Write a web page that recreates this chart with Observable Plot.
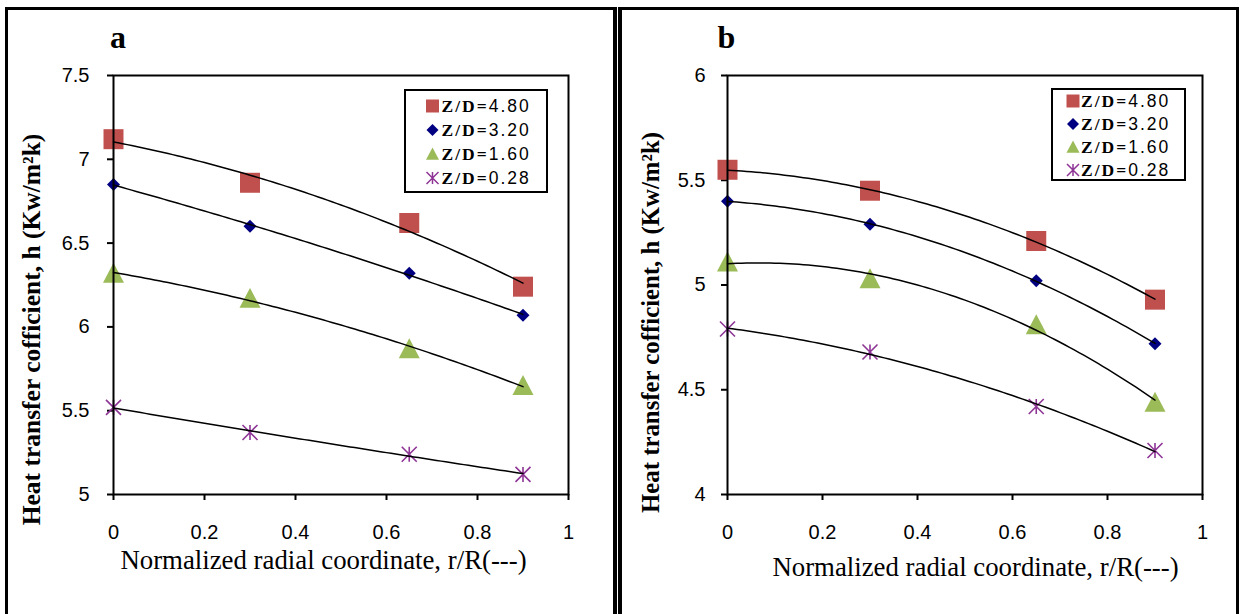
<!DOCTYPE html>
<html>
<head>
<meta charset="utf-8">
<script src="https://cdn.jsdelivr.net/npm/d3@7"></script>
<script src="https://cdn.jsdelivr.net/npm/@observablehq/plot@0.6"></script>
<style>
  body { margin: 0; background: #fff; }
  #page { position: relative; width: 1242px; height: 614px; overflow: hidden; background: #fff; }
  .panel { position: absolute; top: 0; }
  .frame { position: absolute; border-style: solid; border-color: #000; border-bottom: none; box-sizing: border-box; }
  .legend { position: absolute; }
</style>
</head>
<body>
<div id="page"></div>
<script>
// ---------- data ----------
const rR = [0, 0.3, 0.65, 0.9];
const seriesNames = ["Z/D=4.80", "Z/D=3.20", "Z/D=1.60", "Z/D=0.28"];

// panel a
const hA_480 = [7.12, 6.86, 6.62, 6.24];
const hA_320 = [6.85, 6.60, 6.32, 6.07];
const hA_160 = [6.32, 6.17, 5.87, 5.65];
const hA_028 = [5.52, 5.37, 5.24, 5.12];
// panel b
const hB_480 = [5.55, 5.45, 5.21, 4.93];
const hB_320 = [5.40, 5.29, 5.02, 4.72];
const hB_160 = [5.11, 5.03, 4.81, 4.44];
const hB_028 = [4.79, 4.68, 4.42, 4.21];

const xTicks = [0, 0.2, 0.4, 0.6, 0.8, 1];
const xTickLabels = ["0", "0.2", "0.4", "0.6", "0.8", "1"];
const yTicksA = [5, 5.5, 6, 6.5, 7, 7.5];
const yTickLabelsA = ["5", "5.5", "6", "6.5", "7", "7.5"];
const yTicksB = [4, 4.5, 5, 5.5, 6];
const yTickLabelsB = ["4", "4.5", "5", "5.5", "6"];

const titleY = "Heat transfer cofficient, h (Kw/m\u00B2k)";
const titleX = "Normalized radial coordinate, r/R(---)";

// ---------- styles ----------
const colors = ["#c0504d", "#000080", "#9bbb59", "#8e3596"];
const SANS = "Liberation Sans, Arial, sans-serif";
const SERIF = "Liberation Serif, Times New Roman, serif";

const half = s => Math.sqrt(s / Math.PI);
const symSquare = { draw(c, s) { const r = half(s); c.moveTo(-r, -r); c.lineTo(r, -r); c.lineTo(r, r); c.lineTo(-r, r); c.closePath(); } };
const symDiamond = { draw(c, s) { const r = half(s); c.moveTo(0, -r); c.lineTo(r, 0); c.lineTo(0, r); c.lineTo(-r, 0); c.closePath(); } };
const symTriangle = { draw(c, s) { const r = half(s); c.moveTo(0, -r); c.lineTo(r, r * 0.9); c.lineTo(-r, r * 0.9); c.closePath(); } };
const symStar = { draw(c, s) { const r = half(s); c.moveTo(-r, -r); c.lineTo(r, r); c.moveTo(-r, r); c.lineTo(r, -r); c.moveTo(0, -r); c.lineTo(0, r); } };
const symbols = [symSquare, symDiamond, symTriangle, symStar];
const markerR = [10, 6.5, 10.5, 7.5];
const legendR = [6.5, 6, 6.5, 6];

// quadratic least-squares trendline (as in the source's polynomial trendlines)
function quadFit(xs, ys) {
  let n = xs.length, s1 = 0, s2 = 0, s3 = 0, s4 = 0, t0 = 0, t1 = 0, t2 = 0;
  for (let i = 0; i < n; i++) {
    const x = xs[i], y = ys[i];
    s1 += x; s2 += x * x; s3 += x * x * x; s4 += x * x * x * x;
    t0 += y; t1 += x * y; t2 += x * x * y;
  }
  const M = [[n, s1, s2], [s1, s2, s3], [s2, s3, s4]];
  const det = m => m[0][0] * (m[1][1] * m[2][2] - m[1][2] * m[2][1]) - m[0][1] * (m[1][0] * m[2][2] - m[1][2] * m[2][0]) + m[0][2] * (m[1][0] * m[2][1] - m[1][1] * m[2][0]);
  const D = det(M), T = [t0, t1, t2];
  const coef = [0, 1, 2].map(k => det(M.map((row, i) => row.map((v, j) => (j === k ? T[i] : v)))) / D);
  return x => coef[0] + coef[1] * x + coef[2] * x * x;
}
const fitX = d3.range(91).map(i => (i * d3.max(rR)) / 90);

function seriesMarks(seriesList) {
  const dots = seriesList.map((ys, k) =>
    Plot.dot(rR.map((x, i) => ({ x, y: ys[i] })), {
      x: "x", y: "y", r: markerR[k], symbol: symbols[k],
      fill: k === 3 ? "none" : colors[k],
      stroke: k === 3 ? colors[k] : "none",
      strokeWidth: k === 3 ? 1.6 : 0
    })
  );
  const lines = seriesList.map(ys => {
    const f = quadFit(rR, ys);
    return Plot.line(fitX.map(x => ({ x, y: f(x) })), { x: "x", y: "y", stroke: "#000", strokeWidth: 1.5, curve: "linear" });
  });
  return [...dots, ...lines];
}

function panel(opts) {
  return Plot.plot({
    width: opts.width, height: 614,
    marginLeft: opts.ml, marginRight: opts.mr, marginTop: 75, marginBottom: 120,
    x: { domain: [0, 1] },
    y: { domain: opts.yDomain },
    style: { fontFamily: SANS, fontSize: "20px", color: "#000", background: "transparent", overflow: "visible" },
    marks: [
      Plot.axisX({ ticks: xTicks, tickFormat: d => xTickLabels[xTicks.indexOf(d)], tickSize: 6, tickPadding: 24, strokeWidth: 2, label: null, fontSize: 20 }),
      Plot.axisY({ ticks: opts.yTicks, tickFormat: d => opts.yLabels[opts.yTicks.indexOf(d)], tickSize: 6, tickPadding: opts.tp, strokeWidth: 2, label: null, fontSize: 20 }),
      ...seriesMarks(opts.series),
      Plot.frame({ stroke: "#000", strokeWidth: 2 }),
      Plot.text([titleY], { text: d => d, frameAnchor: "left", textAnchor: "middle", lineAnchor: "middle", rotate: -90, dx: opts.tyDx, dy: opts.tyDy, fontFamily: SERIF, fontWeight: "bold", fontSize: opts.tyFs }),
      Plot.text([titleX], { text: d => d, frameAnchor: "bottom", textAnchor: "middle", lineAnchor: "middle", dx: opts.txDx, dy: opts.txDy, fontFamily: SERIF, fontSize: 26.8 }),
      Plot.text([opts.tag], { text: d => d, frameAnchor: "top-left", textAnchor: "middle", lineAnchor: "middle", dx: opts.tagDx, dy: -38, fontFamily: SERIF, fontWeight: "bold", fontSize: 32 })
    ]
  });
}

function legend(L) {
  const svg = d3.create("svg").attr("width", L.w).attr("height", L.h)
    .attr("class", "legend").style("left", L.left + "px").style("top", L.top + "px");
  svg.append("rect").attr("x", 1).attr("y", 1).attr("width", L.w - 2).attr("height", L.h - 2)
    .attr("fill", "#fff").attr("stroke", "#000").attr("stroke-width", 2);
  seriesNames.forEach((name, k) => {
    const p = d3.path();
    symbols[k].draw(p, Math.PI * legendR[k] * legendR[k]);
    svg.append("path").attr("d", p.toString())
      .attr("transform", `translate(${L.mx},${L.rows[k]})`)
      .attr("fill", k === 3 ? "none" : colors[k])
      .attr("stroke", k === 3 ? colors[k] : "none")
      .attr("stroke-width", k === 3 ? 1.5 : 0);
    const [a, b] = name.split("=");
    const t = svg.append("text").attr("x", L.tx).attr("y", L.rows[k] + 6)
      .style("letter-spacing", "2px").style("font-size", "17.5px");
    t.append("tspan").style("font-family", SERIF).style("font-weight", "bold").text(a + "=");
    t.append("tspan").style("font-family", SANS).text(b);
  });
  return svg.node();
}

const page = document.getElementById("page");

const pa = panel({
  width: 617, ml: 113, mr: 49, yDomain: [5, 7.5], yTicks: yTicksA, yLabels: yTickLabelsA, tp: 18,
  series: [hA_480, hA_320, hA_160, hA_028],
  tyDx: -82, tyDy: 44.5, tyFs: 25.5, txDx: -17.5, txDy: 66, tag: "a", tagDx: 4.6
});
const wa = document.createElement("div"); wa.className = "panel"; wa.style.left = "0px"; wa.appendChild(pa); page.appendChild(wa);

const pb = panel({
  width: 622, ml: 107, mr: 40, yDomain: [4, 6], yTicks: yTicksB, yLabels: yTickLabelsB, tp: 16,
  series: [hB_480, hB_320, hB_160, hB_028],
  tyDx: -76.5, tyDy: 37.5, tyFs: 24.8, txDx: 10.5, txDy: 72.5, tag: "b", tagDx: -1
});
const wb = document.createElement("div"); wb.className = "panel"; wb.style.left = "620px"; wb.appendChild(pb); page.appendChild(wb);

page.appendChild(legend({ left: 404, top: 89, w: 144, h: 104, rows: [17, 41, 65, 89], mx: 28.5, tx: 37.5 }));
page.appendChild(legend({ left: 1051, top: 88, w: 135, h: 93, rows: [13, 36, 59, 82], mx: 22, tx: 30 }));

// outer panel frames
const fa = document.createElement("div"); fa.className = "frame";
Object.assign(fa.style, { left: "5px", top: "7px", width: "612px", height: "620px", borderWidth: "3px 4px 0 3px" });
page.appendChild(fa);
const fb = document.createElement("div"); fb.className = "frame";
Object.assign(fb.style, { left: "618px", top: "7px", width: "621px", height: "620px", borderWidth: "3px 3px 0 4px" });
page.appendChild(fb);
</script>
</body>
</html>
